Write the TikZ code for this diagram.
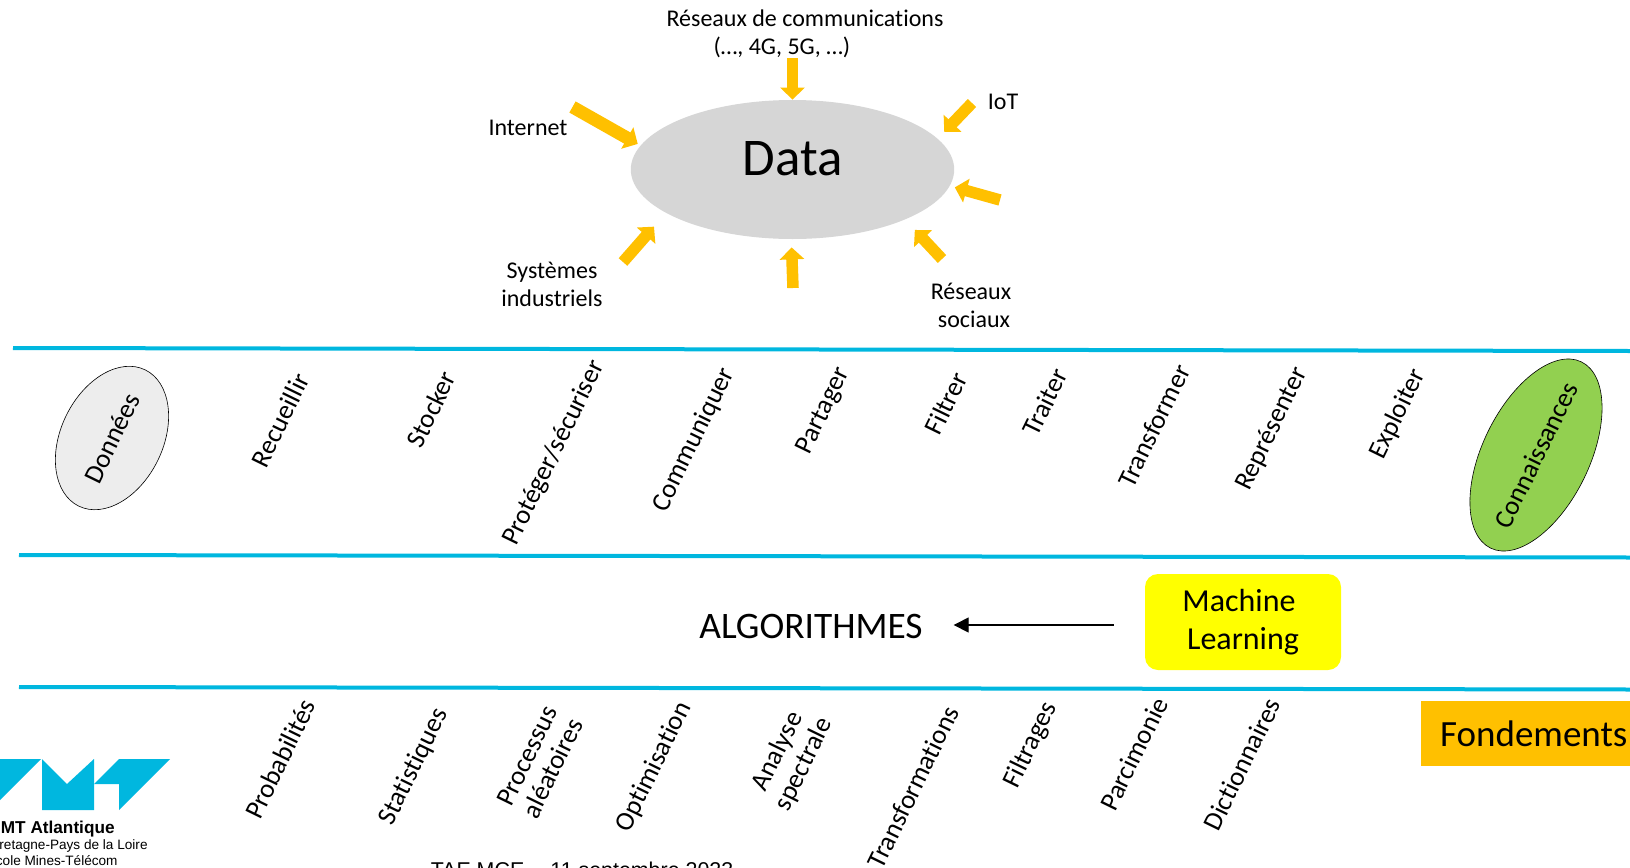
\documentclass[tikz,border=0pt]{standalone}
\usepackage[usenames,dvipsnames]{xcolor}
\usepackage{fontspec}
\setmainfont{Carlito}[Ligatures=NoCommon]
\newfontfamily\logofont{Liberation Sans}
\usepackage{tikz}
\usetikzlibrary{arrows.meta,shapes.geometric}
\definecolor{bandblue}{HTML}{00B7DF}
\definecolor{datagrey}{HTML}{D6D6D6}
\definecolor{datagold}{HTML}{FFC000}
\definecolor{knowgreen}{HTML}{92D050}
\definecolor{mlyellow}{HTML}{FFFF00}
\tikzset{
  small/.style={font=\fontsize{12}{14}\selectfont,align=center},
  verb/.style={font=\fontsize{13.4}{14.5}\selectfont,align=center,rotate=64},
  band/.style={color=bandblue,line width=2pt},
  datain/.style={color=datagold,line width=5.75pt,-{Triangle[length=6pt,width=12pt]}},
  logotext/.style={anchor=east,inner sep=0pt}
}
\begin{document}
\begin{tikzpicture}[x=.5pt,y=-.5pt]
 \useasboundingbox (0,0) rectangle (1630,868);
 \draw (792.5,169.5) node[ellipse,fill=datagrey,minimum width=161.7pt,minimum height=69.5pt,inner sep=0pt,font=\fontsize{26.5}{30}\selectfont] (data) {\raisebox{-3pt}[0pt][0pt]{\makebox[0pt]{Data}}};
  \draw (805,34) node[small,align=left] (reseaux) {R\'eseaux de communications\\\hspace*{23.5pt}(\dots, 4G, 5G, \dots)};
  \draw (528,128) node[small] (internet) {Internet};
  \draw (1003,102) node[small] (iot) {IoT};
  \draw (552,284) node[small] (systemes) {Syst\`emes\\industriels};
  \draw (971,305) node[small] (sociaux) {R\'eseaux\\\hspace*{3pt}sociaux};
 \coordinate (fromReseaux) at (792.5,58);
 \coordinate (fromInternet) at (572.5,107);
 \coordinate (fromIot) at (972,103);
 \coordinate (fromRight) at (1000,200);
 \coordinate (fromSociaux) at (942,259);
 \coordinate (fromBottom) at (793,288);
 \coordinate (fromSystemes) at (623,262);
     \path[datain] (fromReseaux) edge (data.90);
     \path[datain,line width=6.4pt] (fromInternet) edge[shorten >=1.5pt] (data.171.8);
     \path[datain] (fromIot) edge[shorten >=4.6pt] (data.12);
     \path[datain] (fromRight) edge[shorten >=2.5pt] (data.-6.3);
     \path[datain] (fromSociaux) edge[shorten >=7pt] (data.-24.6);
     \path[datain] (fromBottom) edge[shorten >=4pt] (data.-91);
     \path[datain] (fromSystemes) edge[shorten >=9pt] (data.199.5);
 \coordinate (bandAl) at (13,348);
 \coordinate (bandAr) at (1630,351);
 \coordinate (bandBl) at (19,555);
 \coordinate (bandBr) at (1630,557.5);
 \coordinate (bandCl) at (19,687);
 \coordinate (bandCr) at (1630,689.5);
     \draw[band] (bandAl) -- (bandAr);
     \draw[band] (bandBl) -- (bandBr);
     \draw[band] (bandCl) -- (bandCr);
 \draw (112,438) node[verb,ellipse,draw,fill=black!7,line width=.3pt,minimum width=75.8pt,minimum height=51pt,inner sep=0pt] (donnees) {\makebox[0pt]{Donn\'ees}};
  \draw (280,420) node[verb] (recueillir) {Recueillir};
  \draw (431,409) node[verb] (stocker) {Stocker};
  \draw (554,453) node[verb] (proteger) {Prot\'eger/s\'ecuriser};
  \draw (694,440) node[verb] (communiquer) {Communiquer};
  \draw (824,411) node[verb] (partager) {Partager};
  \draw (946,403) node[verb] (filtrer) {Filtrer};
  \draw (1045,402) node[verb] (traiter) {Traiter};
  \draw (1154,426) node[verb] (transformer) {Transformer};
  \draw (1272,429) node[verb] (representer) {Repr\'esenter};
  \draw (1398,414) node[verb] (exploiter) {Exploiter};
 \draw (1536,455) node[verb,ellipse,draw,fill=knowgreen,line width=.3pt,minimum width=103.6pt,minimum height=53.4pt,inner sep=0pt] (connaissances) {\makebox[0pt]{Connaissances}};
 \draw (811,626) node[font=\fontsize{18.7}{22}\selectfont] (algo) {ALGORITHMES};
 \draw (1243,622) node[rectangle,rounded corners=6.5pt,fill=mlyellow,minimum width=98pt,minimum height=48pt,inner sep=0pt,align=center,font=\fontsize{16}{19}\selectfont] (ml) {Machine\hspace*{4pt}\\Learning};
 \coordinate (algotip) at ([yshift=.5pt]algo.east);
     \path[-{Triangle[length=7.5pt,width=7.5pt]},line width=.6pt,shorten <=15.5pt,shorten >=12pt] (ml.west |- algotip) edge (algotip);
  \draw (280,759) node[verb] (probabilites) {Probabilit\'es};
  \draw (414,767) node[verb] (statistiques) {Statistiques};
  \draw (540,762) node[verb] (processus) {Processus\\al\'eatoires};
  \draw (654,767) node[verb] (optimisation) {Optimisation};
  \draw (791,758) node[verb] (analyse) {Analyse\\spectrale};
  \draw (913,787) node[verb] (transformations) {Transformations};
  \draw (1031,745) node[verb] (filtrages) {Filtrages};
  \draw (1134,754) node[verb] (parcimonie) {Parcimonie};
  \draw (1242,764) node[verb] (dictionnaires) {Dictionnaires};
 \draw (1421,733.5) node[anchor=west,rectangle,fill=datagold,minimum height=32.5pt,inner xsep=1.5pt,inner ysep=0pt,text width=101.5pt,align=right,font=\fontsize{18.5}{22}\selectfont] (fondements) {Fondements};
 \fill[bandblue] (0,759) -- (41,759) -- (0,800) -- cycle;
 \fill[bandblue] (42,759) -- (67,784) -- (94,759) -- (94,810) -- (42,810) -- cycle;
 \fill[bandblue] (119,759) -- (170,759) -- (119,810) -- (119,784) -- (94,784) -- cycle;
  \draw (115,829) node[logotext,font=\logofont\bfseries\fontsize{8.6}{9}\selectfont] (imt) {IMT Atlantique};
  \draw (148,846) node[logotext,font=\logofont\fontsize{6.8}{8}\selectfont] (bretagne) {Bretagne-Pays de la Loire};
  \draw (118,860) node[logotext,font=\logofont\fontsize{6.8}{8}\selectfont] (ecole) {\'Ecole Mines-T\'el\'ecom};
 \draw (582,872) node[font=\logofont\fontsize{10.7}{12}\selectfont] (tae) {TAE MCE -- 11 septembre 2023};
\end{tikzpicture}
\end{document}
